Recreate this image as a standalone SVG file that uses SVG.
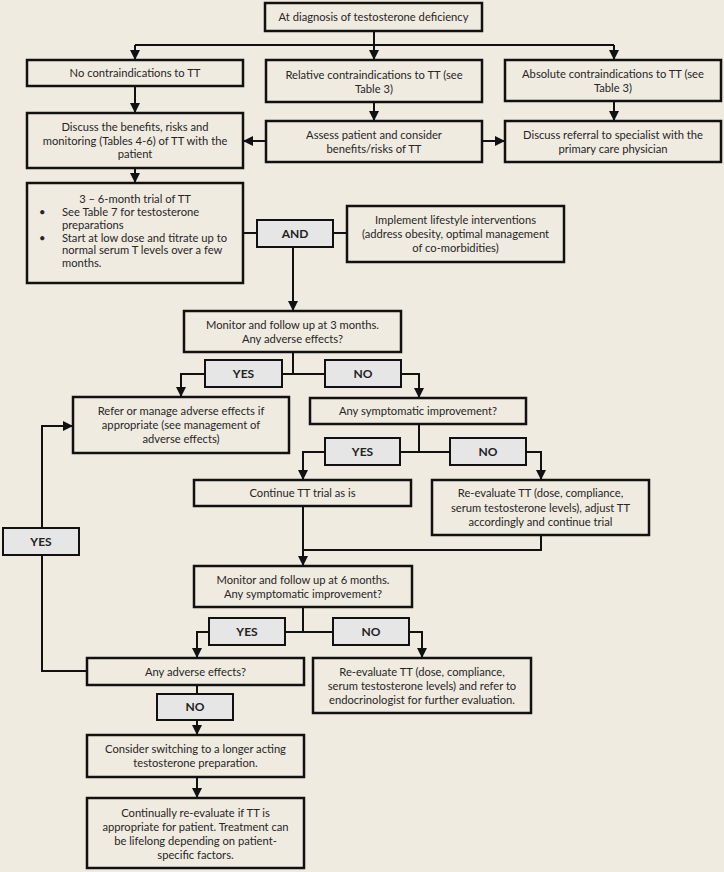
<svg xmlns="http://www.w3.org/2000/svg" width="724" height="872" viewBox="0 0 724 872">
<style>
.bg{fill:#f0ebe1}
.box{fill:#f0ebe1;stroke:#111;stroke-width:2.5}
.lbl{fill:#e6e6e6;stroke:#111;stroke-width:2}
.t{font-family:Lato,"Open Sans","Liberation Sans",sans-serif;font-size:11.2px;fill:#262626;text-anchor:middle}
.tl{text-anchor:start}
.b{font-family:Lato,"Open Sans","Liberation Sans",sans-serif;font-size:12px;font-weight:bold;fill:#222;text-anchor:middle}
.c{fill:none;stroke:#111;stroke-width:2}
</style>
<defs>
<marker id="ah" markerUnits="userSpaceOnUse" markerWidth="10" markerHeight="10" refX="10" refY="5" orient="auto">
<path d="M0,0 L10,5 L0,10 z" fill="#111"/>
</marker>
</defs>
<rect class="bg" x="0" y="0" width="724" height="872"/>

<g id="connectors">
<path class="c" d="M374,31 V45"/>
<path class="c" d="M135,45 H614"/>
<path class="c" d="M135,45 V60" marker-end="url(#ah)"/>
<path class="c" d="M374,45 V60" marker-end="url(#ah)"/>
<path class="c" d="M614,45 V60" marker-end="url(#ah)"/>
<path class="c" d="M135,86 V113" marker-end="url(#ah)"/>
<path class="c" d="M374,102 V121" marker-end="url(#ah)"/>
<path class="c" d="M614,101 V121" marker-end="url(#ah)"/>
<path class="c" d="M266,141 H243" marker-end="url(#ah)"/>
<path class="c" d="M482,141 H505" marker-end="url(#ah)"/>
<path class="c" d="M135,168 V183" marker-end="url(#ah)"/>
<path class="c" d="M243,233 H257"/>
<path class="c" d="M333,233 H347"/>
<path class="c" d="M293,247 V311" marker-end="url(#ah)"/>
<path class="c" d="M293,352 V374"/>
<path class="c" d="M282,374 H325"/>
<path class="c" d="M205,374 H181 V397" marker-end="url(#ah)"/>
<path class="c" d="M401,374 H419 V398" marker-end="url(#ah)"/>
<path class="c" d="M419,424 V452"/>
<path class="c" d="M400,452 H450"/>
<path class="c" d="M325,452 H303 V480" marker-end="url(#ah)"/>
<path class="c" d="M526,452 H541 V480" marker-end="url(#ah)"/>
<path class="c" d="M303,506 V566" marker-end="url(#ah)"/>
<path class="c" d="M541,535 V550 H303"/>
<path class="c" d="M303,607 V632"/>
<path class="c" d="M285,632 H333"/>
<path class="c" d="M209,632 H197 V658" marker-end="url(#ah)"/>
<path class="c" d="M409,632 H422 V658" marker-end="url(#ah)"/>
<path class="c" d="M87,671 H42 V426 H73" marker-end="url(#ah)"/>
<path class="c" d="M197,685 V694"/>
<path class="c" d="M197,720 V735" marker-end="url(#ah)"/>
<path class="c" d="M197,777 V798" marker-end="url(#ah)"/>
</g>

<g id="n-diagnosis">
<rect class="box" x="265" y="3" width="217" height="28"/>
<text class="t" x="373.5" y="21">At diagnosis of testosterone deficiency</text>
</g>
<g id="n-nocontra">
<rect class="box" x="27" y="60" width="216" height="26"/>
<text class="t" x="135" y="77">No contraindications to TT</text>
</g>
<g id="n-relative">
<rect class="box" x="266" y="60" width="216" height="42"/>
<text class="t" x="374" y="79">Relative contraindications to TT (see</text>
<text class="t" x="374" y="93">Table 3)</text>
</g>
<g id="n-absolute">
<rect class="box" x="505" y="60" width="216" height="41"/>
<text class="t" x="613" y="78">Absolute contraindications to TT (see</text>
<text class="t" x="613" y="92">Table 3)</text>
</g>
<g id="n-discuss">
<rect class="box" x="27" y="113" width="216" height="55"/>
<text class="t" x="135" y="131">Discuss the benefits, risks and</text>
<text class="t" x="135" y="145">monitoring (Tables 4-6) of TT with the</text>
<text class="t" x="135" y="158">patient</text>
</g>
<g id="n-assess">
<rect class="box" x="266" y="121" width="216" height="41"/>
<text class="t" x="374" y="139">Assess patient and consider</text>
<text class="t" x="374" y="153">benefits/risks of TT</text>
</g>
<g id="n-referral">
<rect class="box" x="505" y="121" width="216" height="41"/>
<text class="t" x="613" y="139">Discuss referral to specialist with the</text>
<text class="t" x="613" y="153">primary care physician</text>
</g>
<g id="n-trial">
<rect class="box" x="27" y="183" width="216" height="100"/>
<text class="t" x="135" y="203">3 – 6-month trial of TT</text>
<text class="t tl" x="39" y="216">•</text>
<text class="t tl" x="62" y="216">See Table 7 for testosterone</text>
<text class="t tl" x="62" y="229">preparations</text>
<text class="t tl" x="39" y="242">•</text>
<text class="t tl" x="62" y="242">Start at low dose and titrate up to</text>
<text class="t tl" x="62" y="254">normal serum T levels over a few</text>
<text class="t tl" x="62" y="267">months.</text>
</g>
<g id="l-and">
<rect class="lbl" x="257" y="220" width="76" height="27"/>
<text class="b" x="295" y="238">AND</text>
</g>
<g id="n-lifestyle">
<rect class="box" x="347" y="206" width="217" height="56"/>
<text class="t" x="455.5" y="224">Implement lifestyle interventions</text>
<text class="t" x="455.5" y="238">(address obesity, optimal management</text>
<text class="t" x="455.5" y="252">of co-morbidities)</text>
</g>
<g id="n-monitor3">
<rect class="box" x="184" y="311" width="217" height="41"/>
<text class="t" x="292.5" y="329">Monitor and follow up at 3 months.</text>
<text class="t" x="292.5" y="343">Any adverse effects?</text>
</g>
<g id="l-yes1">
<rect class="lbl" x="205" y="360" width="77" height="27"/>
<text class="b" x="243.5" y="378">YES</text>
</g>
<g id="l-no1">
<rect class="lbl" x="325" y="360" width="76" height="27"/>
<text class="b" x="363" y="378">NO</text>
</g>
<g id="n-refer">
<rect class="box" x="73" y="397" width="216" height="56"/>
<text class="t" x="181" y="415">Refer or manage adverse effects if</text>
<text class="t" x="181" y="429">appropriate (see management of</text>
<text class="t" x="181" y="443">adverse effects)</text>
</g>
<g id="n-symptomatic">
<rect class="box" x="310" y="398" width="216" height="26"/>
<text class="t" x="418" y="415">Any symptomatic improvement?</text>
</g>
<g id="l-yes2">
<rect class="lbl" x="325" y="438" width="75" height="27"/>
<text class="b" x="362.5" y="456">YES</text>
</g>
<g id="l-no2">
<rect class="lbl" x="450" y="438" width="76" height="27"/>
<text class="b" x="488" y="456">NO</text>
</g>
<g id="n-continue">
<rect class="box" x="194" y="480" width="217" height="26"/>
<text class="t" x="302.5" y="497">Continue TT trial as is</text>
</g>
<g id="n-reeval1">
<rect class="box" x="432" y="480" width="217" height="55"/>
<text class="t" x="540.5" y="497">Re-evaluate TT (dose, compliance,</text>
<text class="t" x="540.5" y="511.5">serum testosterone levels), adjust TT</text>
<text class="t" x="540.5" y="526">accordingly and continue trial</text>
</g>
<g id="l-yes-left">
<rect class="lbl" x="3" y="528" width="76" height="27"/>
<text class="b" x="41" y="546">YES</text>
</g>
<g id="n-monitor6">
<rect class="box" x="194" y="566" width="218" height="41"/>
<text class="t" x="303" y="584">Monitor and follow up at 6 months.</text>
<text class="t" x="303" y="598">Any symptomatic improvement?</text>
</g>
<g id="l-yes3">
<rect class="lbl" x="209" y="618" width="76" height="27"/>
<text class="b" x="247" y="636">YES</text>
</g>
<g id="l-no3">
<rect class="lbl" x="333" y="618" width="76" height="27"/>
<text class="b" x="371" y="636">NO</text>
</g>
<g id="n-adverse">
<rect class="box" x="87" y="658" width="217" height="27"/>
<text class="t" x="195.5" y="675.5">Any adverse effects?</text>
</g>
<g id="n-reeval2">
<rect class="box" x="313" y="658" width="218" height="55"/>
<text class="t" x="422" y="676">Re-evaluate TT (dose, compliance,</text>
<text class="t" x="422" y="690">serum testosterone levels) and refer to</text>
<text class="t" x="422" y="704">endocrinologist for further evaluation.</text>
</g>
<g id="l-no4">
<rect class="lbl" x="157" y="694" width="76" height="26"/>
<text class="b" x="195" y="711">NO</text>
</g>
<g id="n-consider">
<rect class="box" x="87" y="735" width="217" height="42"/>
<text class="t" x="195.5" y="753">Consider switching to a longer acting</text>
<text class="t" x="195.5" y="767">testosterone preparation.</text>
</g>
<g id="n-continually">
<rect class="box" x="87" y="798" width="217" height="70"/>
<text class="t" x="195.5" y="817">Continually re-evaluate if TT is</text>
<text class="t" x="195.5" y="831">appropriate for patient. Treatment can</text>
<text class="t" x="195.5" y="845">be lifelong depending on patient-</text>
<text class="t" x="195.5" y="859">specific factors.</text>
</g>
</svg>
